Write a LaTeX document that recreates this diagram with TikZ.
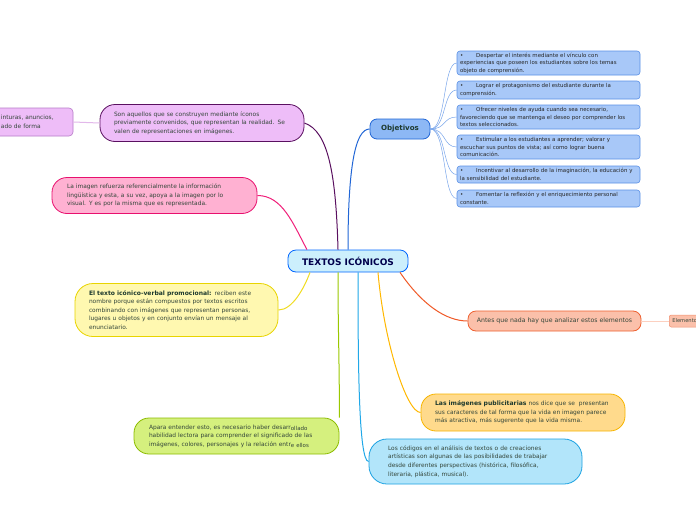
\documentclass[tikz,border=0pt]{standalone}
\usepackage{fontspec}
\setmainfont{DejaVu Sans}
\usepackage{tikz}
\usetikzlibrary{shapes,positioning}
\definecolor{txtc}{HTML}{34463A}
\definecolor{boldc}{HTML}{1E3A2E}
\tikzstyle{bubble}=[rectangle, draw, align=left, text=txtc, line width=0.8pt, inner ysep=0pt, font=\fontsize{5.9}{8.6}\selectfont]
\tikzstyle{mainblock}=[rectangle, rounded corners=8pt, draw=blue!60!cyan, fill=cyan!20, line width=0.8pt, minimum width=120pt, minimum height=22pt, font=\bfseries\fontsize{9}{10}\selectfont, text=blue!30!black]
\tikzstyle{objblock}=[rectangle, rounded corners=7pt, draw={rgb,255:red,33;green,102;blue,214}, fill={rgb,255:red,141;green,184;blue,245}, line width=0.8pt, minimum width=60pt, minimum height=20pt, font=\bfseries\fontsize{7.1}{8}\selectfont, text=boldc]
\tikzstyle{itemblock}=[rectangle, rounded corners=3pt, draw={rgb,255:red,90;green,144;blue,230}, fill={rgb,255:red,168;green,200;blue,248}, line width=0.6pt, align=left, text=black!85, inner xsep=3pt, inner ysep=0pt, text width=177pt, font=\fontsize{5.45}{7.6}\selectfont]
\tikzstyle{purpleblock}=[bubble, rounded corners=15pt, draw={rgb,255:red,90;green,16;blue,96}, fill={rgb,255:red,238;green,189;blue,248}, inner xsep=14pt, text width=176pt, minimum height=37pt]
\tikzstyle{pinkblock}=[bubble, rounded corners=15pt, draw={rgb,255:red,232;green,16;blue,110}, fill={rgb,255:red,255;green,177;blue,210}, inner xsep=15pt, text width=175pt, minimum height=36pt]
\tikzstyle{yellowblock}=[bubble, rounded corners=18pt, draw={rgb,255:red,232;green,212;blue,0}, fill={rgb,255:red,255;green,248;blue,176}, inner xsep=14pt, text width=175pt, minimum height=53pt]
\tikzstyle{greenblock}=[bubble, rounded corners=15pt, draw={rgb,255:red,140;green,188;blue,0}, fill={rgb,255:red,213;green,240;blue,126}, inner xsep=15pt, text width=175pt, minimum height=36pt]
\tikzstyle{orangeblock}=[bubble, rounded corners=15pt, draw={rgb,255:red,247;green,181;blue,0}, fill={rgb,255:red,255;green,218;blue,140}, inner xsep=14pt, text width=176pt, minimum height=37pt]
\tikzstyle{cyanblock}=[bubble, rounded corners=18pt, draw={rgb,255:red,28;green,162;blue,226}, fill={rgb,255:red,178;green,229;blue,250}, inner xsep=19pt, text width=175pt, minimum height=45pt]
\tikzstyle{salmonblock}=[bubble, rounded corners=8pt, draw={rgb,255:red,238;green,96;blue,48}, fill={rgb,255:red,251;green,192;blue,170}, align=center, minimum width=173pt, minimum height=20pt, font=\fontsize{6.2}{8}\selectfont]
\tikzstyle{link}=[line width=1pt]

\begin{document}
\begin{tikzpicture}[x=1pt, y=-1pt]
\useasboundingbox[fill=white] (0,0) rectangle (696,520);

\node[mainblock](center) at (348,261) {TEXTOS ICÓNICOS};
\node[objblock](obj) at (400,129) {Objetivos};

\node[itemblock, minimum height=24pt](o1) at (548.5,63) {•\hspace{13pt}Despertar el interés mediante el vínculo con\\experiencias que poseen los estudiantes sobre los temas\\objeto de comprensión.};
\node[itemblock, minimum height=18pt](o2) at (548.5,90) {•\hspace{13pt}Lograr el protagonismo del estudiante durante la\\comprensión.};
\node[itemblock, minimum height=24pt](o3) at (548.5,117) {•\hspace{13pt}Ofrecer niveles de ayuda cuando sea necesario,\\favoreciendo que se mantenga el deseo por comprender los\\textos seleccionados.};
\node[itemblock, minimum height=24pt](o4) at (548.5,147) {•\hspace{13pt}Estimular a los estudiantes a aprender; valorar y\\escuchar sus puntos de vista; así como lograr buena\\comunicación.};
\node[itemblock, minimum height=17pt](o5) at (548.5,174.5) {•\hspace{13pt}Incentivar al desarrollo de la imaginación, la educación y\\la sensibilidad del estudiante.};
\node[itemblock, minimum height=17pt](o6) at (548.5,198.5) {•\hspace{13pt}Fomentar la reflexión y el enriquecimiento personal\\constante.};

\node[purpleblock](purple) at (202,123) {Son aquellos que se construyen mediante íconos\\previamente convenidos, que representan la realidad. Se\\valen de representaciones en imágenes.};
\node[bubble, rounded corners=4pt, draw={rgb,255:red,183;green,124;blue,200}, fill={rgb,255:red,238;green,189;blue,248}, line width=0.6pt, minimum height=28pt, text width=61pt, inner xsep=11pt](leftp) at (31.5,122) {inturas, anuncios,\\ado de forma};

\node[pinkblock](pink) at (154.5,195.5) {La imagen refuerza referencialmente la información\\lingüística y esta, a su vez, apoya a la imagen por lo\\visual. Y es por la misma que es representada.};
\node[yellowblock](yellow) at (176.5,310) {{\color{boldc}\bfseries\fontsize{6.05}{8.6}\selectfont El texto icónico-verbal promocional:} reciben este\\nombre porque están compuestos por textos escritos\\combinando con imágenes que representan personas,\\lugares u objetos y en conjunto envían un mensaje al\\enunciatario.};
\node[greenblock](green) at (236.5,436) {Apara entender esto, es necesario haber desarr\raisebox{-1pt}{\fontsize{5.5}{6}\selectfont ollado}\\habilidad lectora para comprender el significado de las\\imágenes, colores, personajes y la relación entr\raisebox{-1pt}{\fontsize{5.5}{6}\selectfont e ellos}};

\node[salmonblock](salmon) at (554.5,321) {Antes que nada hay que analizar estos elementos};
\node[bubble, rounded corners=2pt, draw={rgb,255:red,240;green,144;blue,112}, fill={rgb,255:red,251;green,192;blue,170}, line width=0.5pt, minimum height=12pt, inner xsep=3pt, font=\fontsize{5.2}{6}\selectfont](elem) at (686,321) {Elementos};
\node[orangeblock](orange) at (523,412.5) {{\color{boldc}\bfseries\fontsize{6.1}{8.6}\selectfont Las imágenes publicitarias} nos dice que se \ presentan\\sus caracteres de tal forma que la vida en imagen parece\\más atractiva, más sugerente que la vida misma.};
\node[cyanblock](cyan) at (475.5,461.5) {Los códigos en el análisis de textos o de creaciones\\artísticas son algunas de las posibilidades de trabajar\\desde diferentes perspectivas (histórica, filosófica,\\literaria, plástica, musical).};

% branches
\draw[link, draw={rgb,255:red,90;green,16;blue,96}](purple.east) .. controls +(24,8) and +(-2,-75) .. ([xshift=-10pt]center.north);
\draw[link, draw={rgb,255:red,240;green,32;blue,122}](pink.east) .. controls +(25,0) and +(-14,-26) .. ([xshift=-41pt]center.north);
\draw[link, draw={rgb,255:red,33;green,102;blue,214}](center.north) .. controls +(0,-85) and +(-14,0) .. (obj.west);
\draw[link, draw={rgb,255:red,240;green,220;blue,32}](yellow.east) .. controls +(14,0) and +(-6,16) .. ([xshift=-38pt]center.south);
\draw[link, draw={rgb,255:red,154;green,200;blue,0}](green.north east) .. controls +(0,-60) and +(0,60) .. ([xshift=-10pt]center.south);
\draw[link, draw={rgb,255:red,32;green,168;blue,232}]([xshift=10pt]center.south) .. controls +(0,90) and +(-10,0) .. (cyan.west);
\draw[link, draw={rgb,255:red,255;green,184;blue,0}]([xshift=30pt]center.south) .. controls +(6,70) and +(-14,0) .. (orange.west);
\draw[link, draw={rgb,255:red,240;green,90;blue,40}]([xshift=52pt]center.south) .. controls +(22,32) and +(-22,0) .. (salmon.west);
\draw[link, draw={rgb,255:red,226;green,184;blue,234}](leftp.east) -- (purple.west);
\draw[link, draw={rgb,255:red,252;green,208;blue,192}](salmon.east) -- (elem.west);

\foreach \n in {o1,o2,o3,o4,o5,o6}
  \draw[line width=0.5pt, draw={rgb,255:red,120;green,165;blue,235}](obj.east) .. controls +(16,0) and +(-14,0) .. (\n.west);

\end{tikzpicture}
\end{document}
